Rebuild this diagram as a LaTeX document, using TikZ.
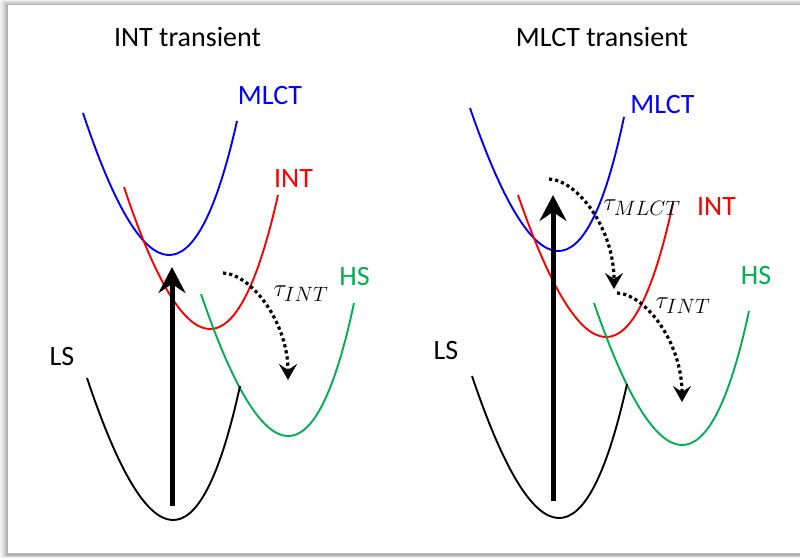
\documentclass[tikz,border=0pt]{standalone}
\usepackage{fontspec}
\setmainfont{Carlito}
\usepackage{tikz}
\usetikzlibrary{arrows.meta,calc}
\definecolor{mlct}{RGB}{0,0,255}
\definecolor{intc}{RGB}{255,0,0}
\definecolor{hsc}{RGB}{0,176,80}
\tikzset{
  pes/.style={line width=1.9pt},
  exc/.style={line width=5pt,-{Stealth[length=26pt,width=27pt,inset=9pt]}},
  relax/.style={line width=3.2pt,dash pattern=on 3.2pt off 3pt,-{Stealth[length=16pt,width=18pt,inset=6pt]}},
  lbl/.style={anchor=base,inner sep=0pt,font=\fontsize{28}{34}\selectfont}
}
% potential energy curve: colour, left end, control, right end
\newcommand{\pec}[4]{\draw[pes,#1] (#2) .. controls ($(#2)!2/3!(#3)$) and ($(#4)!2/3!(#3)$) .. (#4);}

\begin{document}
\begin{tikzpicture}[x=1pt,y=-1pt]
\useasboundingbox (0,0) rectangle (800,558);
% frame
\foreach \i/\c in {0/6,2/12,4/20,6/30} \fill[black!\c] (\i,0.6*\i) rectangle (800,558-0.3*\i);
\fill[white] (8,5) rectangle (800,553);

% INT transient
\node[lbl] (titleL) at (187.5,46) {INT transient};
\pec{mlct}{83,113}{176,393}{237,121}
\pec{intc}{124,187}{217,467}{278,195}
\pec{hsc}{201,294}{296.5,573.5}{354,303}
\pec{black}{87,378}{180.5,658}{240,386}
\node[lbl,mlct] (mlctL) at (270,104) {MLCT};
\node[lbl,intc] (intL) at (293.5,187) {INT};
\node[lbl,hsc] (hsL) at (354.5,285) {HS};
\node[lbl] (lsL) at (62,365) {LS};
\coordinate (gsL) at (172,506); \coordinate (exL) at (172,267);
\draw[exc] (gsL) -- (exL);
\coordinate (intsL) at (223,273); \coordinate (hssL) at (288,380);
\draw[relax] (intsL) .. controls (251,274) and (288,322) .. (hssL);
\node[lbl] (tauL) at (301,296) {$\tau_{INT}$};

% MLCT transient
\node[lbl] (titleR) at (602,46) {MLCT transient};
\pec{mlct}{470,108}{567,389.5}{624,117}
\pec{intc}{518,195}{614.5,475}{673,203}
\pec{hsc}{594,303}{690.5,583}{749,311}
\pec{black}{472,376}{566.5,656}{627,384}
\node[lbl,mlct] (mlctR) at (662.5,113) {MLCT};
\node[lbl,intc] (intR) at (716.5,215) {INT};
\node[lbl,hsc] (hsR) at (756,284) {HS};
\node[lbl] (lsR) at (446,359) {LS};
\coordinate (gsR) at (553,501); \coordinate (exR) at (553,195);
\draw[exc] (gsR) -- (exR);
\coordinate (mlctsR) at (549,179); \coordinate (intsR) at (614,289);
\draw[relax] (mlctsR) .. controls (577,180) and (614,228) .. (intsR);
\coordinate (intaR) at (617,293); \coordinate (hssR) at (682,402);
\draw[relax] (intaR) .. controls (645,294) and (682,342) .. (hssR);
\node[lbl] (tauMR) at (642,210) {$\tau_{MLCT}$};
\node[lbl] (tauIR) at (683,308) {$\tau_{INT}$};
\end{tikzpicture}
\end{document}
